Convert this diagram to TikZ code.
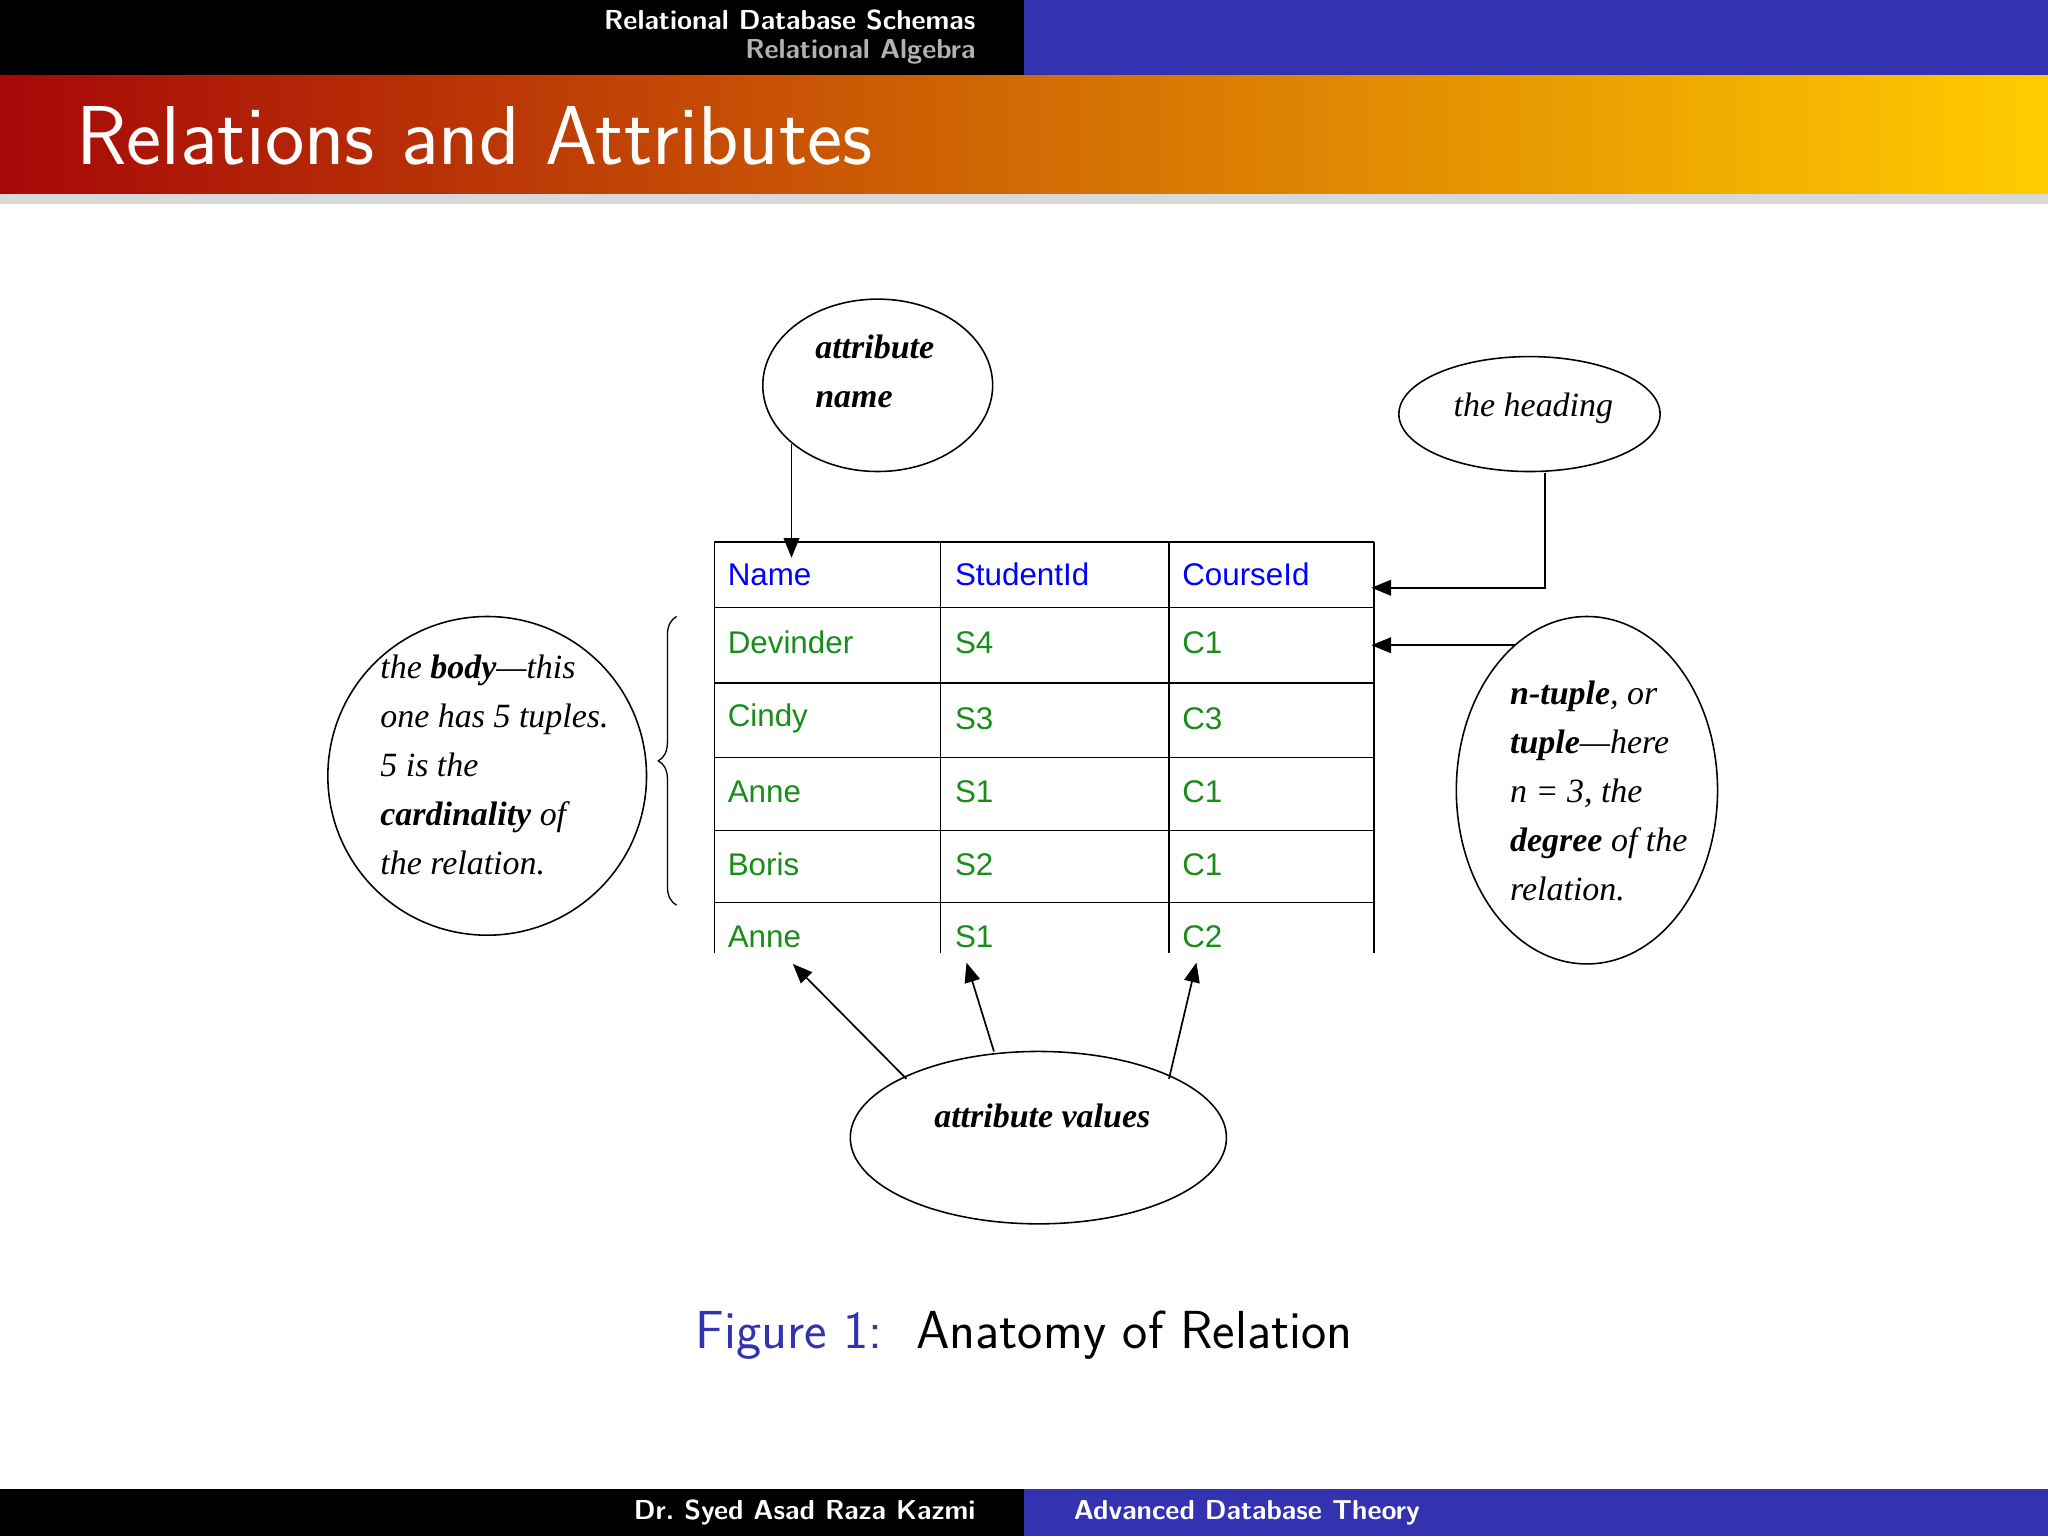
\documentclass[tikz,border=0pt]{standalone}
\usepackage{fontspec}
\newfontfamily\tnr{Liberation Serif}
\newfontfamily\ari{Liberation Sans}
\usetikzlibrary{decorations.pathreplacing,arrows.meta}
\definecolor{bblue}{rgb}{0.2,0.2,0.7}
\definecolor{tgreen}{rgb}{0.1,0.55,0.1}
\tikzset{
  lbl/.style={inner sep=0pt,font=\tnr\fontsize{26}{37.5}\selectfont\itshape,align=left,anchor=north west},
  ell/.style={draw,line width=1.2pt},
  arr/.style={line width=1.3pt,-{Triangle[length=15pt,width=12pt]}},
  hd/.style={anchor=west,inner sep=0pt,text=blue,font=\ari\fontsize{24}{28}\selectfont},
  cell/.style={anchor=west,inner sep=0pt,text=tgreen,font=\ari\fontsize{24}{28}\selectfont},
}
\begin{document}
\begin{tikzpicture}[x=1pt,y=-1pt]
\useasboundingbox (0,0) rectangle (1568,1176);
\fill[white] (0,0) rectangle (1568,1176);
% header
\fill[black] (0,0) rectangle (784,58);
\fill[bblue] (784,0) rectangle (1568,58);
\node[anchor=east,text=white,font=\sffamily\bfseries\fontsize{21}{24}\selectfont,inner sep=0pt] (h1) at (747,15) {Relational Database Schemas};
\node[anchor=east,text=white!70!black,font=\sffamily\bfseries\fontsize{21}{24}\selectfont,inner sep=0pt] (h2) at (747,40) {Relational Algebra};
\fill[black!15] (0,148) rectangle (1568,156);
\fill[left color={rgb,1:red,0.65;green,0.03;blue,0.03},middle color={rgb,1:red,0.85;green,0.45;blue,0.05},right color={rgb,1:red,1;green,0.8;blue,0}] (0,58) rectangle (1568,148);
\node[anchor=west,text=white,font=\sffamily\fontsize{64}{70}\selectfont,inner sep=0pt] (title) at (58,104) {Relations and Attributes};
% footer
\fill[black] (0,1140) rectangle (784,1176);
\fill[bblue] (784,1140) rectangle (1568,1176);
\node[anchor=east,text=white,font=\sffamily\bfseries\fontsize{21}{24}\selectfont,inner sep=0pt] (f1) at (747,1158) {Dr.\ Syed Asad Raza Kazmi};
\node[anchor=west,text=white,font=\sffamily\bfseries\fontsize{21}{24}\selectfont,inner sep=0pt] (f2) at (822,1158) {Advanced Database Theory};
% caption
\node[font=\sffamily\fontsize{41}{46}\selectfont,inner sep=0pt] (cap) at (784,1022) {\textcolor{bblue}{Figure 1:}\ \ Anatomy of Relation};
% table
\begin{scope}[line width=1.2pt]
\foreach \y in {415,465,523,580,636,691} \draw (547,\y) -- (1052,\y);
\foreach \x in {547,720,895,1052} \draw (\x,415) -- (\x,730);
\end{scope}
\node[hd] (n1) at (557,440) {Name};
\node[hd] (n2) at (731,440) {StudentId};
\node[hd] (n3) at (905,440) {CourseId};
\foreach \a/\b/\c/\y in {Devinder/S4/C1/492,Cindy/S3/C3/550,Anne/S1/C1/606,Boris/S2/C1/662,Anne/S1/C2/717}{
  \node[cell] at (557,\y) {\a};
  \node[cell] at (731,\y) {\b};
  \node[cell] at (905,\y) {\c};
}
\coordinate (t1) at (606,427);
\coordinate (t2) at (1050,450);
\coordinate (t3) at (1050,494);
\coordinate (v1) at (607,738);
\coordinate (v2) at (740,737);
\coordinate (v3) at (916,737);
% ellipses
\draw[ell] (672,295) ellipse [x radius=88,y radius=66];
\node[lbl,font=\tnr\fontsize{26}{37.5}\selectfont\bfseries\itshape] (an) at (624,256) {attribute\\name};
\draw[ell] (1171,317) ellipse [x radius=100,y radius=44];
\node[inner sep=0pt,font=\tnr\fontsize{26}{30}\selectfont\itshape] (he) at (1174,313) {the heading};
\draw[ell] (373,594) ellipse [x radius=122,y radius=122];
\node[lbl] (bo) at (291,501) {the \textbf{body}—this\\one has 5 tuples.\\5 is the\\\textbf{cardinality} of\\the relation.};
\draw[ell] (1215,605) ellipse [x radius=100,y radius=133];
\node[lbl] (tu) at (1156,521) {\textbf{n-tuple}, or\\\textbf{tuple}—here\\n = 3, the\\\textbf{degree} of the\\relation.};
\draw[ell] (795,871) ellipse [x radius=144,y radius=66];
\node[inner sep=0pt,font=\tnr\fontsize{26}{30}\selectfont\bfseries\itshape] (av) at (798,854) {attribute values};
% arrows
\coordinate (a0) at (606,340);
\draw[arr] (a0) -- (t1);
\coordinate (h0) at (1183,362);
\draw[arr] (h0) |- (t2);
\coordinate (u0) at (1160,494);
\draw[arr] (u0) -- (t3);
\coordinate (w1) at (694,826);
\coordinate (w2) at (761,805);
\coordinate (w3) at (895,826);
\draw[arr] (w1) -- (v1);
\draw[arr] (w2) -- (v2);
\draw[arr] (w3) -- (v3);
% brace
\coordinate (b1) at (518,693);
\coordinate (b2) at (518,472);
\draw[line width=1pt,decorate,decoration={brace,amplitude=14pt}] (b1) -- (b2);
\end{tikzpicture}
\end{document}
